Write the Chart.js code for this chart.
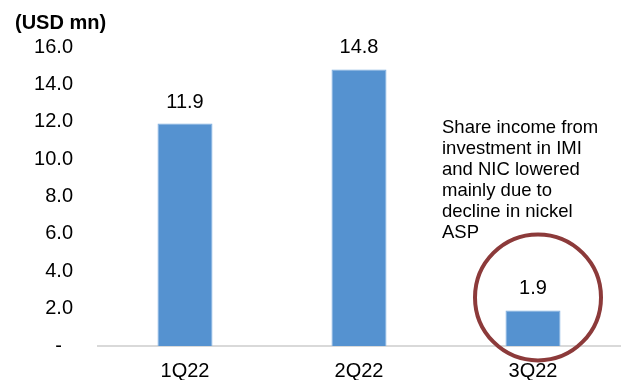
<!DOCTYPE html>
<html>
<head>
<meta charset="utf-8">
<script src="https://cdn.jsdelivr.net/npm/chart.js@4"></script>
<style>
  html, body { margin: 0; padding: 0; background: #fff; overflow: hidden; }
  canvas { display: block; }
</style>
</head>
<body>
<canvas id="chart" width="625" height="383"></canvas>
<script>
// Data
const quarters = ['1Q22', '2Q22', '3Q22'];
const shareIncome = [11.9, 14.8, 1.9];
const unitLabel = '(USD mn)';
const noteLines = ['Share income from', 'investment in IMI', 'and NIC lowered', 'mainly due to', 'decline in nickel', 'ASP'];

const FONT = '"Liberation Sans", Arial, sans-serif';

// Draws title, value labels, the note and the circle
const extrasPlugin = {
    id: 'extras',
    afterDatasetsDraw(chart) {
        const ctx = chart.ctx;
        const meta = chart.getDatasetMeta(0);
        const x = chart.scales.x, y = chart.scales.y;
        ctx.save();

        // unit label
        ctx.fillStyle = '#000';
        ctx.font = 'bold 20px ' + FONT;
        ctx.textAlign = 'left';
        ctx.textBaseline = 'alphabetic';
        ctx.fillText(unitLabel, 15, 29);

        // value labels
        ctx.font = '20px ' + FONT;
        ctx.textAlign = 'center';
        meta.data.forEach((bar, i) => {
            ctx.fillText(shareIncome[i].toFixed(1), bar.x, bar.y - 16);
        });

        // note
        ctx.font = '18.5px ' + FONT;
        ctx.textAlign = 'left';
        noteLines.forEach((line, i) => {
            ctx.fillText(line, 442, 133 + i * 21);
        });

        // circle round the last bar
        const cx = x.getPixelForValue(2) + 5;
        const cy = y.getPixelForValue(2.6);
        ctx.beginPath();
        ctx.arc(cx, cy, 63, 0, Math.PI * 2);
        ctx.strokeStyle = '#8c3a3a';
        ctx.lineWidth = 4;
        ctx.stroke();

        ctx.restore();
    }
};

new Chart(document.getElementById('chart'), {
    type: 'bar',
    data: {
        labels: quarters,
        datasets: [{
            data: shareIncome,
            backgroundColor: '#5592d0',
            borderColor: '#7eaee0',
            borderWidth: 1,
            categoryPercentage: 1,
            barPercentage: 0.316
        }]
    },
    options: {
        responsive: false,
        animation: false,
        layout: { padding: { top: 47, right: 5, left: 0, bottom: -4 } },
        plugins: { legend: { display: false }, tooltip: { enabled: false }, title: { display: false } },
        scales: {
            x: {
                grid: { display: false, drawTicks: false },
                border: { display: true, color: '#d9d9d9', width: 2 },
                ticks: { color: '#000', font: { family: FONT, size: 20 }, padding: 13 },
                afterFit(scale) { scale.height = 34; }
            },
            y: {
                min: 0,
                max: 16,
                grid: { display: false, drawTicks: false },
                border: { display: false },
                ticks: {
                    stepSize: 2,
                    color: '#000',
                    padding: 25,
                    font: { family: FONT, size: 20 },
                    callback: v => v === 0 ? '-  ' : v.toFixed(1)
                },
                afterFit(scale) { scale.width = 98; }
            }
        }
    },
    plugins: [extrasPlugin]
});
</script>
</body>
</html>
